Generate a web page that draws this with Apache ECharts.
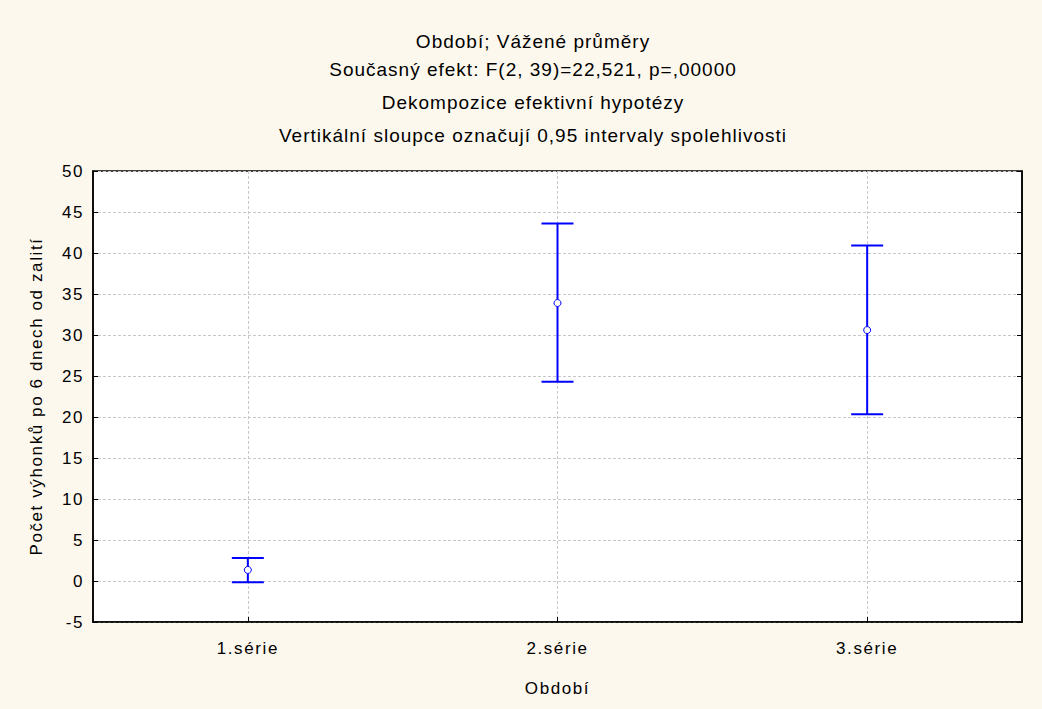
<!DOCTYPE html>
<html>
<head>
<meta charset="utf-8">
<script src="https://cdn.jsdelivr.net/npm/echarts@6/dist/echarts.min.js"></script>
<style>
  html, body { margin: 0; padding: 0; background: #fdf8ee; }
  #chart { width: 1042px; height: 709px; }
  /* slightly wider glyph spacing for the chart texts */
  #chart svg text { letter-spacing: 1.6px; }
  #chart svg text[style*="19px"] { letter-spacing: 1px; }
</style>
</head>
<body>
<div id="chart"></div>
<script>
// Období — vážené průměry s 0,95 intervaly spolehlivosti
const categories = ['1.série', '2.série', '3.série'];
const means = [1.35, 33.9, 30.6];
const lowerCI = [-0.15, 24.3, 20.35];
const upperCI = [2.8, 43.6, 40.9];
const yTicks = { min: -5, max: 50, interval: 5 };

const titleLines = [
  'Období; Vážené průměry',
  'Současný efekt: F(2, 39)=22,521, p=,00000',
  'Dekompozice efektivní hypotézy',
  'Vertikální sloupce označují 0,95 intervaly spolehlivosti'
];
const titleTops = [27, 55, 88, 121];

const FONT = '"Liberation Sans", Arial, sans-serif';
const BLUE = '#0000ff';

const errData = categories.map((c, i) => [i, lowerCI[i], means[i], upperCI[i]]);

function renderErr(params, api) {
  const x = api.value(0);
  const lo = api.coord([x, api.value(1)]);
  const mid = api.coord([x, api.value(2)]);
  const hi = api.coord([x, api.value(3)]);
  const half = 16;
  const r = 3.5;
  const lineStyle = { stroke: BLUE, lineWidth: 2 };
  return {
    type: 'group',
    children: [
      { type: 'line', shape: { x1: hi[0], y1: hi[1], x2: mid[0], y2: mid[1] - r }, style: lineStyle },
      { type: 'line', shape: { x1: mid[0], y1: mid[1] + r, x2: lo[0], y2: lo[1] }, style: lineStyle },
      { type: 'line', shape: { x1: hi[0] - half, y1: hi[1], x2: hi[0] + half, y2: hi[1] }, style: lineStyle },
      { type: 'line', shape: { x1: lo[0] - half, y1: lo[1], x2: lo[0] + half, y2: lo[1] }, style: lineStyle },
      { type: 'circle', shape: { cx: mid[0], cy: mid[1], r: r }, style: { fill: '#ffffff', stroke: BLUE, lineWidth: 1 } }
    ]
  };
}

const chart = echarts.init(document.getElementById('chart'), null, { renderer: 'svg' });

const axisText = { color: '#000', fontFamily: FONT, fontSize: 17 };
const gridLine = { show: true, lineStyle: { color: '#c8c8c8', type: [3, 2], width: 1 } };
const frameLine = { show: true, onZero: false, lineStyle: { color: '#000', width: 1.5 } };
const inTick = { show: true, inside: true, length: 5, lineStyle: { color: '#000' } };

chart.setOption({
  backgroundColor: '#fdf8ee',
  animation: false,
  title: titleLines.map((t, i) => ({
    text: t,
    left: 528,
    textAlign: 'center',
    top: titleTops[i],
    textStyle: { color: '#000', fontFamily: FONT, fontSize: 19, fontWeight: 'normal' }
  })),
  grid: {
    left: 93, right: 20, top: 171, bottom: 87,
    show: true, backgroundColor: '#ffffff', borderColor: '#000', borderWidth: 1.5
  },
  xAxis: [{
    type: 'category',
    data: categories,
    boundaryGap: true,
    name: 'Období',
    nameLocation: 'middle',
    nameGap: 58,
    nameTextStyle: axisText,
    axisLine: frameLine,
    axisTick: Object.assign({ alignWithLabel: true }, inTick),
    axisLabel: Object.assign({ margin: 18 }, axisText),
    splitLine: Object.assign({ alignWithLabel: true }, gridLine)
  }],
  yAxis: [{
    type: 'value',
    min: yTicks.min, max: yTicks.max, interval: yTicks.interval,
    name: 'Počet výhonků po 6 dnech od zalití',
    nameLocation: 'middle',
    nameGap: 48,
    nameRotate: 90,
    nameTextStyle: axisText,
    axisLine: frameLine,
    axisTick: inTick,
    axisLabel: Object.assign({ margin: 9 }, axisText),
    splitLine: gridLine
  }, {
    type: 'value',
    position: 'right',
    min: yTicks.min, max: yTicks.max, interval: yTicks.interval,
    axisLine: frameLine,
    axisTick: inTick,
    axisLabel: { show: false },
    splitLine: { show: false }
  }],
  series: [{
    type: 'custom',
    renderItem: renderErr,
    data: errData,
    encode: { x: 0, y: [1, 2, 3] },
    z: 10
  }]
});
</script>
</body>
</html>
